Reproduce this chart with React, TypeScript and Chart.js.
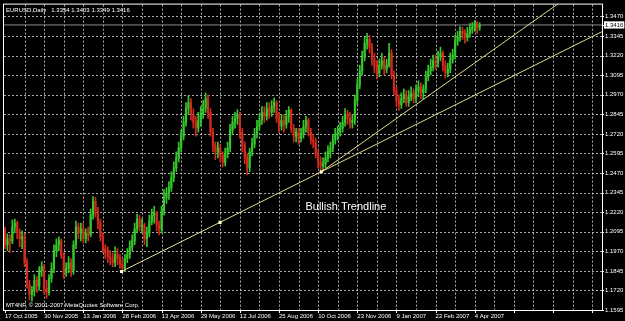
import React, { useEffect, useRef } from 'react';
import { Chart, registerables } from 'chart.js';

Chart.register(...registerables);

// ---- data (EURUSD, Daily; each bar ~2 trading days) ----
const dateLabels = ['17 Oct 2005', '30 Nov 2005', '13 Jan 2006', '28 Feb 2006', '13 Apr 2006', '29 May 2006', '12 Jul 2006', '25 Aug 2006', '10 Oct 2006', '23 Nov 2006', '9 Jan 2007', '22 Feb 2007', '4 Apr 2007'];
const priceTicks = [1.1595, 1.1720, 1.1845, 1.1970, 1.2095, 1.2220, 1.2345, 1.2470, 1.2595, 1.2720, 1.2845, 1.2970, 1.3095, 1.3220, 1.3345, 1.3470];
const lastPrice = 1.3416;
const headerText = 'EURUSD,Daily   1.3354 1.3403 1.3349 1.3416';
const copyrightText = 'MT4NF, \u00A9 2001-2007 MetaQuotes Software Corp.';
const annotationText = 'Bullish Trendline';
const annotationAt = { x: 122.8, y: 1.2251 };

const opens = [
  1.2106, 1.2012, 1.2050, 1.2037, 1.2125, 1.2150, 1.2087, 1.2050, 1.2062, 1.1897,
  1.1759, 1.1696, 1.1721, 1.1784, 1.1746, 1.1847, 1.1872, 1.1734, 1.1708, 1.1797,
  1.1860, 1.1974, 1.2012, 1.2037, 1.1949, 1.1834, 1.1860, 1.1897, 1.1847, 1.2012,
  1.2125, 1.2087, 1.2113, 1.2050, 1.2087, 1.2075, 1.2201, 1.2289, 1.2213, 1.2150,
  1.2062, 1.1987, 1.1961, 1.1936, 1.1924, 1.1897, 1.1949, 1.1924, 1.1885, 1.1860,
  1.1924, 1.1949, 1.1999, 1.2037, 1.2113, 1.2176, 1.2125, 1.2138, 1.2050, 1.2087,
  1.2163, 1.2201, 1.2213, 1.2138, 1.2113, 1.2226, 1.2314, 1.2339, 1.2377, 1.2440,
  1.2503, 1.2567, 1.2630, 1.2706, 1.2794, 1.2882, 1.2920, 1.2844, 1.2794, 1.2756,
  1.2807, 1.2844, 1.2882, 1.2945, 1.2857, 1.2731, 1.2643, 1.2605, 1.2630, 1.2580,
  1.2541, 1.2592, 1.2630, 1.2744, 1.2794, 1.2819, 1.2844, 1.2731, 1.2643, 1.2567,
  1.2503, 1.2605, 1.2655, 1.2718, 1.2769, 1.2807, 1.2857, 1.2832, 1.2882, 1.2857,
  1.2895, 1.2920, 1.2819, 1.2769, 1.2807, 1.2781, 1.2832, 1.2870, 1.2756, 1.2706,
  1.2731, 1.2693, 1.2718, 1.2769, 1.2807, 1.2731, 1.2681, 1.2668, 1.2592, 1.2541,
  1.2516, 1.2528, 1.2567, 1.2605, 1.2630, 1.2681, 1.2718, 1.2731, 1.2756, 1.2794,
  1.2844, 1.2819, 1.2794, 1.2807, 1.2933, 1.3033, 1.3122, 1.3211, 1.3299, 1.3324,
  1.3274, 1.3198, 1.3147, 1.3109, 1.3159, 1.3186, 1.3134, 1.3159, 1.3236, 1.3096,
  1.2996, 1.2933, 1.2907, 1.2945, 1.2970, 1.2920, 1.2958, 1.2983, 1.2945, 1.2996,
  1.3021, 1.2983, 1.3008, 1.3084, 1.3122, 1.3147, 1.3186, 1.3172, 1.3211, 1.3236,
  1.3159, 1.3109, 1.3134, 1.3198, 1.3223, 1.3312, 1.3337, 1.3375, 1.3362, 1.3337,
  1.3362, 1.3387, 1.3400, 1.3425, 1.3400,
];
const highs = [
  1.2125, 1.2081, 1.2075, 1.2169, 1.2176, 1.2163, 1.2113, 1.2100, 1.2087, 1.1924,
  1.1784, 1.1746, 1.1822, 1.1809, 1.1872, 1.1904, 1.1885, 1.1784, 1.1822, 1.1897,
  1.2012, 1.2050, 1.2062, 1.2050, 1.1961, 1.1897, 1.1936, 1.1924, 1.2037, 1.2163,
  1.2150, 1.2150, 1.2150, 1.2113, 1.2125, 1.2239, 1.2320, 1.2314, 1.2251, 1.2176,
  1.2087, 1.2012, 1.1999, 1.1974, 1.1961, 1.1999, 1.1987, 1.1949, 1.1924, 1.1949,
  1.1987, 1.2037, 1.2075, 1.2150, 1.2207, 1.2201, 1.2176, 1.2150, 1.2125, 1.2201,
  1.2239, 1.2257, 1.2226, 1.2163, 1.2257, 1.2365, 1.2377, 1.2415, 1.2478, 1.2541,
  1.2605, 1.2668, 1.2744, 1.2832, 1.2920, 1.2964, 1.2945, 1.2882, 1.2832, 1.2857,
  1.2895, 1.2933, 1.2983, 1.2970, 1.2882, 1.2756, 1.2668, 1.2668, 1.2655, 1.2605,
  1.2630, 1.2668, 1.2781, 1.2832, 1.2857, 1.2876, 1.2857, 1.2756, 1.2668, 1.2592,
  1.2630, 1.2693, 1.2756, 1.2807, 1.2844, 1.2895, 1.2895, 1.2920, 1.2920, 1.2933,
  1.2951, 1.2933, 1.2857, 1.2844, 1.2844, 1.2870, 1.2895, 1.2882, 1.2781, 1.2756,
  1.2756, 1.2756, 1.2807, 1.2832, 1.2819, 1.2756, 1.2718, 1.2693, 1.2618, 1.2573,
  1.2567, 1.2605, 1.2643, 1.2668, 1.2718, 1.2756, 1.2769, 1.2794, 1.2832, 1.2882,
  1.2870, 1.2857, 1.2844, 1.2970, 1.3071, 1.3159, 1.3249, 1.3337, 1.3362, 1.3349,
  1.3299, 1.3236, 1.3186, 1.3198, 1.3236, 1.3211, 1.3198, 1.3299, 1.3261, 1.3122,
  1.3021, 1.2970, 1.2983, 1.3008, 1.2996, 1.2996, 1.3021, 1.3008, 1.3033, 1.3059,
  1.3046, 1.3033, 1.3122, 1.3159, 1.3198, 1.3223, 1.3223, 1.3249, 1.3274, 1.3249,
  1.3186, 1.3172, 1.3236, 1.3261, 1.3349, 1.3375, 1.3406, 1.3400, 1.3387, 1.3400,
  1.3425, 1.3431, 1.3444, 1.3438, 1.3431,
];
const lows = [
  1.1987, 1.1974, 1.1961, 1.2018, 1.2087, 1.2050, 1.1999, 1.1987, 1.1872, 1.1734,
  1.1658, 1.1652, 1.1683, 1.1708, 1.1721, 1.1809, 1.1696, 1.1671, 1.1689, 1.1771,
  1.1834, 1.1936, 1.1974, 1.1924, 1.1797, 1.1809, 1.1834, 1.1809, 1.1822, 1.1987,
  1.2050, 1.2037, 1.2024, 1.2024, 1.2037, 1.2062, 1.2176, 1.2188, 1.2113, 1.2037,
  1.1961, 1.1924, 1.1897, 1.1885, 1.1872, 1.1872, 1.1885, 1.1860, 1.1834, 1.1847,
  1.1897, 1.1924, 1.1974, 1.2012, 1.2087, 1.2100, 1.2087, 1.2012, 1.1999, 1.2062,
  1.2138, 1.2150, 1.2100, 1.2075, 1.2087, 1.2201, 1.2276, 1.2302, 1.2352, 1.2415,
  1.2478, 1.2541, 1.2605, 1.2681, 1.2769, 1.2844, 1.2807, 1.2756, 1.2706, 1.2731,
  1.2769, 1.2819, 1.2857, 1.2819, 1.2706, 1.2605, 1.2555, 1.2567, 1.2541, 1.2509,
  1.2516, 1.2567, 1.2605, 1.2718, 1.2756, 1.2781, 1.2693, 1.2605, 1.2528, 1.2459,
  1.2478, 1.2580, 1.2630, 1.2693, 1.2744, 1.2781, 1.2794, 1.2807, 1.2819, 1.2832,
  1.2857, 1.2794, 1.2731, 1.2744, 1.2731, 1.2756, 1.2794, 1.2731, 1.2668, 1.2668,
  1.2655, 1.2668, 1.2693, 1.2731, 1.2706, 1.2655, 1.2630, 1.2567, 1.2503, 1.2478,
  1.2484, 1.2503, 1.2541, 1.2567, 1.2605, 1.2655, 1.2681, 1.2706, 1.2731, 1.2769,
  1.2781, 1.2756, 1.2756, 1.2781, 1.2907, 1.3008, 1.3096, 1.3186, 1.3261, 1.3236,
  1.3159, 1.3109, 1.3071, 1.3084, 1.3134, 1.3096, 1.3109, 1.3147, 1.3071, 1.2970,
  1.2895, 1.2870, 1.2882, 1.2920, 1.2895, 1.2895, 1.2933, 1.2920, 1.2920, 1.2958,
  1.2945, 1.2945, 1.2983, 1.3059, 1.3096, 1.3122, 1.3134, 1.3147, 1.3186, 1.3122,
  1.3078, 1.3084, 1.3109, 1.3172, 1.3198, 1.3286, 1.3312, 1.3324, 1.3299, 1.3312,
  1.3337, 1.3362, 1.3375, 1.3362, 1.3381,
];
const closes = [
  1.2012, 1.2050, 1.2037, 1.2125, 1.2150, 1.2087, 1.2050, 1.2062, 1.1897, 1.1759,
  1.1696, 1.1721, 1.1784, 1.1746, 1.1847, 1.1872, 1.1734, 1.1708, 1.1797, 1.1860,
  1.1974, 1.2012, 1.2037, 1.1949, 1.1834, 1.1860, 1.1897, 1.1847, 1.2012, 1.2125,
  1.2087, 1.2113, 1.2050, 1.2087, 1.2075, 1.2201, 1.2289, 1.2213, 1.2150, 1.2062,
  1.1987, 1.1961, 1.1936, 1.1924, 1.1897, 1.1949, 1.1924, 1.1885, 1.1860, 1.1924,
  1.1949, 1.1999, 1.2037, 1.2113, 1.2176, 1.2125, 1.2138, 1.2050, 1.2087, 1.2163,
  1.2201, 1.2213, 1.2138, 1.2113, 1.2226, 1.2314, 1.2339, 1.2377, 1.2440, 1.2503,
  1.2567, 1.2630, 1.2706, 1.2794, 1.2882, 1.2920, 1.2844, 1.2794, 1.2756, 1.2807,
  1.2844, 1.2882, 1.2945, 1.2857, 1.2731, 1.2643, 1.2605, 1.2630, 1.2580, 1.2541,
  1.2592, 1.2630, 1.2744, 1.2794, 1.2819, 1.2844, 1.2731, 1.2643, 1.2567, 1.2503,
  1.2605, 1.2655, 1.2718, 1.2769, 1.2807, 1.2857, 1.2832, 1.2882, 1.2857, 1.2895,
  1.2920, 1.2819, 1.2769, 1.2807, 1.2781, 1.2832, 1.2870, 1.2756, 1.2706, 1.2731,
  1.2693, 1.2718, 1.2769, 1.2807, 1.2731, 1.2681, 1.2668, 1.2592, 1.2541, 1.2516,
  1.2528, 1.2567, 1.2605, 1.2630, 1.2681, 1.2718, 1.2731, 1.2756, 1.2794, 1.2844,
  1.2819, 1.2794, 1.2807, 1.2933, 1.3033, 1.3122, 1.3211, 1.3299, 1.3324, 1.3274,
  1.3198, 1.3147, 1.3109, 1.3159, 1.3186, 1.3134, 1.3159, 1.3236, 1.3096, 1.2996,
  1.2933, 1.2907, 1.2945, 1.2970, 1.2920, 1.2958, 1.2983, 1.2945, 1.2996, 1.3021,
  1.2983, 1.3008, 1.3084, 1.3122, 1.3147, 1.3186, 1.3172, 1.3211, 1.3236, 1.3159,
  1.3109, 1.3134, 1.3198, 1.3223, 1.3312, 1.3337, 1.3375, 1.3362, 1.3337, 1.3362,
  1.3387, 1.3400, 1.3425, 1.3400, 1.3416,
];

// trendlines, in (bar index, price)
const trendMain = [
  { x: 47.6, y: 1.1841 },
  { x: 87.9, y: 1.2155 },
  { x: 129.3, y: 1.2478 },
  { x: 244.0, y: 1.3373 },
];
const trendSteep = [
  { x: 129.3, y: 1.2478 },
  { x: 244.0, y: 1.3750 },
];

// axis ranges
const xMin = -0.4067;
const xMax = 244.02;
const yMin = 1.1595;
const yMax = 1.3546;
const gridStep = 8;
const labelStep = 16;

const UP = '#34c82c';
const DOWN = '#d42a1e';
const GRID = 'rgba(205,205,205,0.85)';
const TREND = '#e4d98a';
const FONT = '"Liberation Sans", Arial, sans-serif';
const CLEAR = 'rgba(0,0,0,0)';

export default function App() {
  const ref = useRef<HTMLCanvasElement | null>(null);

  useEffect(() => {
    document.body.style.margin = '0';
    document.body.style.background = '#000';
    const canvas = ref.current;
    if (!canvas) return;

    const idx = closes.map((_, i) => i);
    const colors = idx.map((i) => (closes[i] >= opens[i] ? UP : DOWN));
    const gridTicks: number[] = [];
    for (let v = 0; v <= 240; v += gridStep) gridTicks.push(v);

    const overlay = {
      id: 'mtOverlay',
      beforeDraw(chart: any) {
        const c = chart.ctx;
        c.save();
        c.fillStyle = '#000';
        c.fillRect(0, 0, chart.width, chart.height);
        c.restore();
      },
      beforeDatasetsDraw(chart: any) {
        const c = chart.ctx;
        const a = chart.chartArea;
        const xs = chart.scales.x;
        const ys = chart.scales.y;
        c.save();
        // dotted grid from the scales' ticks
        c.strokeStyle = GRID;
        c.lineWidth = 1;
        c.setLineDash([2, 2]);
        c.beginPath();
        xs.ticks.forEach((t: any) => {
          const px = Math.round(xs.getPixelForValue(t.value)) + 0.5;
          if (px > a.left + 3 && px < a.right - 1) {
            c.moveTo(px, a.top);
            c.lineTo(px, a.bottom);
          }
        });
        ys.ticks.forEach((t: any) => {
          if (t.value === lastPrice) return;
          const py = Math.round(ys.getPixelForValue(t.value)) + 0.5;
          if (py > a.top + 1 && py < a.bottom - 1) {
            c.moveTo(a.left, py);
            c.lineTo(a.right, py);
          }
        });
        c.stroke();
        // tick marks
        c.setLineDash([]);
        c.strokeStyle = '#ffffff';
        c.beginPath();
        xs.ticks.forEach((t: any) => {
          if (Number(t.value) % labelStep !== 0) return;
          const px = Math.round(xs.getPixelForValue(t.value)) + 0.5;
          c.moveTo(px, a.bottom);
          c.lineTo(px, a.bottom + 3);
        });
        ys.ticks.forEach((t: any) => {
          const py = Math.round(ys.getPixelForValue(t.value)) + 0.5;
          c.moveTo(a.right, py);
          c.lineTo(a.right + 2, py);
        });
        c.stroke();
        c.restore();
      },
      afterDraw(chart: any) {
        const c = chart.ctx;
        const a = chart.chartArea;
        c.save();
        c.strokeStyle = '#ffffff';
        c.lineWidth = 1;
        c.strokeRect(a.left - 0.5, a.top - 0.5, a.right - a.left + 1, a.bottom - a.top + 1);
        c.fillStyle = '#ffffff';
        c.textAlign = 'left';
        c.textBaseline = 'middle';
        c.font = `6px ${FONT}`;
        c.fillText(headerText, a.left + 2, a.top + 6);
        c.fillText(copyrightText, a.left + 2, a.bottom - 5);
        c.font = `11px ${FONT}`;
        const xs = chart.scales.x;
        const ys = chart.scales.y;
        c.fillText(annotationText, xs.getPixelForValue(annotationAt.x), ys.getPixelForValue(annotationAt.y));
        c.restore();
      },
    };

    const chart = new Chart(canvas, {
      type: 'bar',
      data: {
        datasets: [
          {
            type: 'line',
            data: trendMain,
            borderColor: TREND,
            borderWidth: 1,
            pointStyle: 'rect',
            pointRadius: [2.2, 2.2, 2.2, 0],
            pointBackgroundColor: '#ffffc8',
            pointBorderWidth: 0,
            tension: 0,
            order: 0,
          } as any,
          {
            type: 'line',
            data: trendSteep,
            borderColor: TREND,
            borderWidth: 1,
            pointRadius: 0,
            tension: 0,
            order: 0,
          } as any,
          {
            type: 'bar',
            data: idx.map((i) => ({ x: i, y: [opens[i], closes[i]] })),
            backgroundColor: colors,
            borderWidth: 0,
            barThickness: 1.5,
            grouped: false,
            order: 1,
          } as any,
          {
            type: 'bar',
            data: idx.map((i) => ({ x: i, y: [lows[i], highs[i]] })),
            backgroundColor: colors,
            borderWidth: 0,
            barThickness: 1,
            grouped: false,
            order: 2,
          } as any,
          {
            type: 'line',
            data: [
              { x: xMin, y: lastPrice },
              { x: xMax, y: lastPrice },
            ],
            borderColor: '#8a8a8a',
            borderWidth: 1,
            pointRadius: 0,
            order: 3,
          } as any,
        ],
      },
      options: {
        responsive: false,
        animation: false,
        events: [],
        layout: { padding: { left: 1, top: 1, right: 0, bottom: 0 } },
        plugins: { legend: { display: false }, tooltip: { enabled: false } },
        scales: {
          x: {
            type: 'linear',
            min: xMin,
            max: xMax,
            offset: false,
            afterBuildTicks: (s: any) => {
              s.ticks = gridTicks.map((v) => ({ value: v }));
            },
            afterFit: (s: any) => {
              s.height = 11;
            },
            ticks: {
              autoSkip: false,
              maxRotation: 0,
              minRotation: 0,
              align: 'start',
              padding: 0,
              color: '#ffffff',
              font: { family: FONT, size: 6 },
              callback: (v: any) => {
                const n = Number(v);
                if (n % labelStep !== 0) return '';
                return dateLabels[n / labelStep] ?? '';
              },
            },
            grid: {
              color: CLEAR,
              offset: false,
              drawOnChartArea: false,
              drawTicks: true,
              tickLength: 3,
              tickColor: CLEAR,
            },
            border: { display: false },
          },
          y: {
            type: 'linear',
            position: 'right',
            min: yMin,
            max: yMax,
            afterBuildTicks: (s: any) => {
              s.ticks = [...priceTicks, lastPrice].sort((a, b) => a - b).map((v) => ({ value: v }));
            },
            afterFit: (s: any) => {
              s.width = 23;
            },
            ticks: {
              autoSkip: false,
              padding: 1,
              font: { family: FONT, size: 6 },
              color: (c: any) => (c.tick && c.tick.value === lastPrice ? '#000000' : '#ffffff'),
              showLabelBackdrop: (c: any) => !!(c.tick && c.tick.value === lastPrice),
              backdropColor: '#ffffff',
              backdropPadding: { top: 0, bottom: 0, left: 1, right: 1 },
              callback: (v: any) => Number(v).toFixed(4),
            },
            grid: {
              color: CLEAR,
              drawOnChartArea: false,
              drawTicks: true,
              tickLength: 2,
              tickColor: CLEAR,
            },
            border: { display: false },
          },
        },
      } as any,
      plugins: [overlay],
    });

    return () => chart.destroy();
  }, []);

  return (
    <canvas
      ref={ref}
      width={625}
      height={321}
      style={{ display: 'block', width: 625, height: 321, background: '#000' }}
    />
  );
}
